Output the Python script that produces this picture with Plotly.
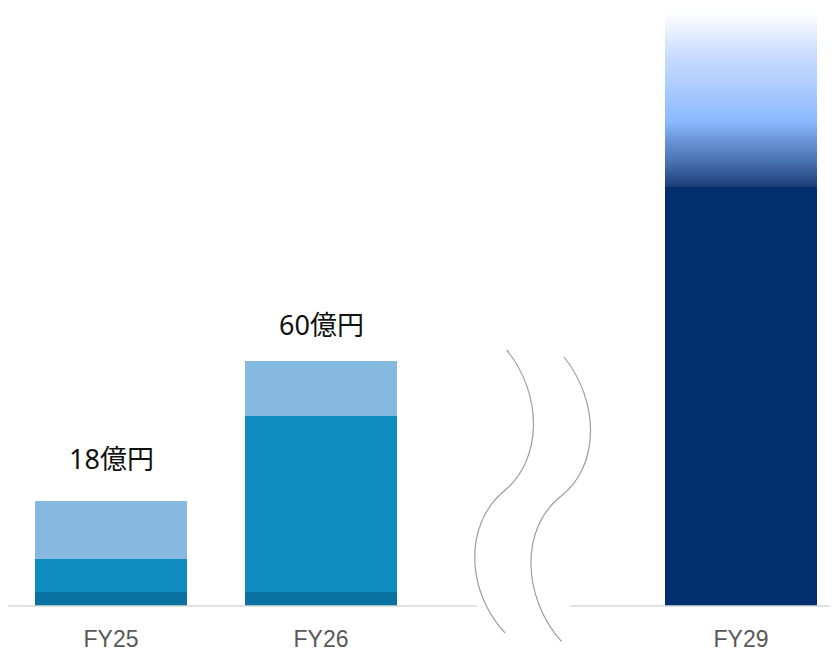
import plotly.graph_objects as go

# ---- data (segment heights, chart units) ----
categories = ["FY25", "FY26", "FY29"]
positions = [0, 1, 3]
seg_base = [14, 14, None]          # dark teal bottom segment
seg_middle = [33, 176, None]       # mid blue segment
seg_top = [58, 55, None]           # light blue top segment
seg_fy29 = [None, None, 419]       # navy segment
seg_fy29_upside = [None, None, 175]  # gradient segment
totals_text = ["18億円", "60億円", None]
label_shift = [22, 16.5, 0]        # label gap above bar, pixels

BAR_W = 0.724
OFF = 8                 # page body margin
W, H = 838 - OFF, 653 - OFF
BASE_PX = 606           # baseline in page pixels
PLOT_H = BASE_PX - OFF
MB = H - PLOT_H

fig = go.Figure()

fig.add_bar(x=positions, y=seg_base, width=BAR_W, marker=dict(color="#0a72a0", line=dict(width=0)), name="base")
fig.add_bar(x=positions, y=seg_middle, width=BAR_W, marker=dict(color="#0e8bbf", line=dict(width=0)), name="middle")
fig.add_bar(x=positions, y=seg_top, width=BAR_W, marker=dict(color="#85b9e0", line=dict(width=0)), name="top")
fig.add_bar(x=positions, y=seg_fy29, width=BAR_W, marker=dict(color="#002e6e", line=dict(width=0)), name="fy29")
fig.add_bar(x=positions, y=seg_fy29_upside, width=BAR_W, marker=dict(color="rgba(0,0,0,0)", line=dict(width=0)), name="upside")

# gradient fill for upside segment, derived from the data
for i, up in enumerate(seg_fy29_upside):
    if up is None:
        continue
    base = seg_fy29[i]
    x0 = positions[i] - BAR_W / 2
    x1 = positions[i] + BAR_W / 2
    fig.add_scatter(
        x=[x0, x1, x1, x0, x0],
        y=[base, base, base + up, base + up, base],
        mode="lines", line=dict(width=0), fill="toself",
        fillgradient=dict(
            type="vertical",
            colorscale=[
                [0.0, "#1c3d77"], [0.15, "#4a74b3"], [0.27, "#6b95d8"],
                [0.37, "#88b8ff"], [0.55, "#a9caff"], [0.75, "#c8dcfd"],
                [0.9, "#eaf1fd"], [1.0, "#ffffff"],
            ],
        ),
        hoverinfo="skip", showlegend=False,
    )

# total labels
for i, t in enumerate(totals_text):
    if t is None:
        continue
    tot = sum(v for v in (seg_base[i], seg_middle[i], seg_top[i]) if v)
    fig.add_annotation(x=positions[i], y=tot, text=t, showarrow=False,
                       yanchor="bottom", yshift=label_shift[i],
                       font=dict(family="Noto Sans, Noto Sans CJK JP", size=27, color="#111111"))

# decorations in page-pixel space -> paper coords
def px(x):
    return (x - OFF) / W

def py(y):
    return (BASE_PX - y) / PLOT_H

def path(pts):
    (sx, sy), rest = pts[0], pts[1:]
    s = f"M {px(sx)},{py(sy)}"
    for k in range(0, len(rest), 3):
        (ax, ay), (bx, by), (cx, cy) = rest[k:k + 3]
        s += f" C {px(ax)},{py(ay)} {px(bx)},{py(by)} {px(cx)},{py(cy)}"
    return s

shapes = []
# baseline segments with gap
for xa, xb in [(5, 477), (570, 838)]:
    shapes.append(dict(type="line", xref="paper", yref="paper", x0=px(max(xa, OFF)), x1=px(xb), y0=0, y1=0,
                       line=dict(color="#d9d9d9", width=1.3)))
# wavy break lines
wave1 = [(506.7, 350), (543, 395), (543, 460), (503, 492), (465, 524), (465, 590), (505, 633)]
wave2 = [(564, 357), (600, 402), (600, 467), (560, 497), (521, 528), (521, 596), (561.7, 641.7)]
for wv in (wave1, wave2):
    shapes.append(dict(type="path", xref="paper", yref="paper", path=path(wv),
                       line=dict(color="#9e9e9e", width=1.2)))

c0 = 111 - OFF  # FY25 center in figure pixels
fig.update_layout(
    width=W, height=H, barmode="stack", showlegend=False,
    margin=dict(l=0, r=0, t=0, b=MB),
    paper_bgcolor="white", plot_bgcolor="white",
    shapes=shapes,
    xaxis=dict(range=[-c0 / 210, (W - c0) / 210], tickvals=positions, ticktext=categories,
               showgrid=False, zeroline=False, showline=False, ticks="",
               ticklabelstandoff=17,
               tickfont=dict(family="Liberation Sans", size=23, color="#595959")),
    yaxis=dict(range=[0, PLOT_H], visible=False),
)

fig.write_html("out.html")
